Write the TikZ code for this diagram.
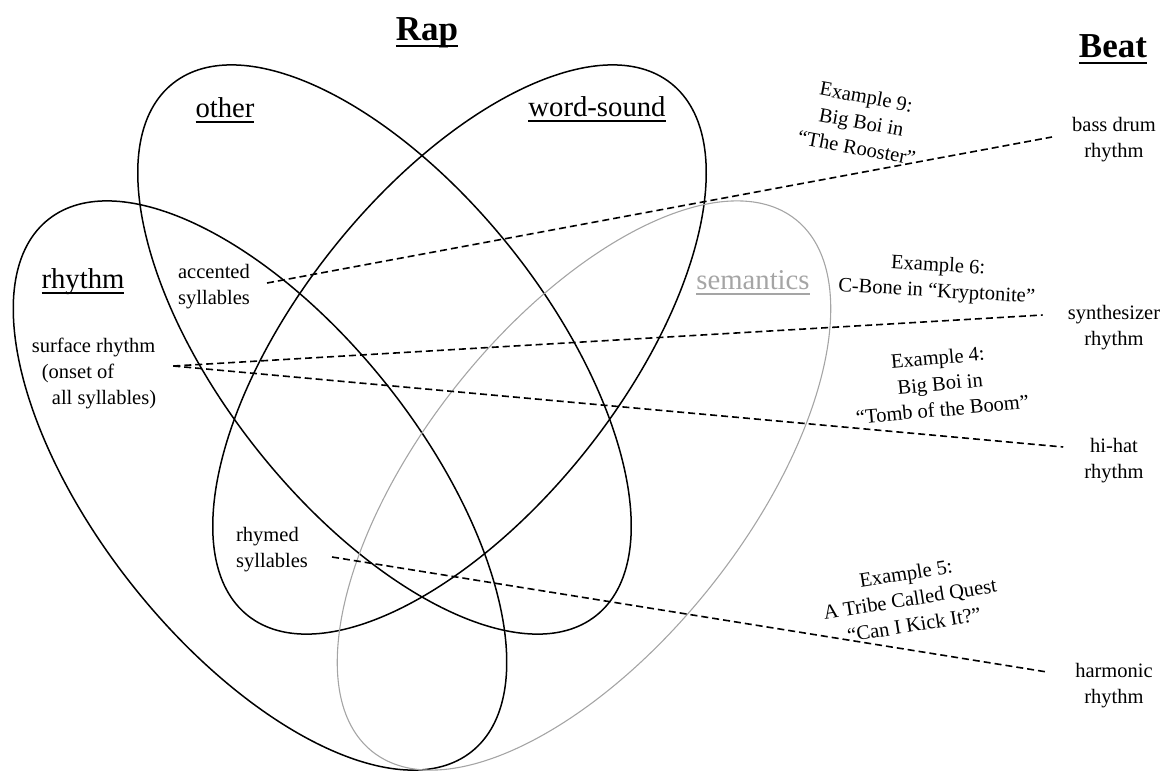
\documentclass[tikz,border=0pt]{standalone}
\usepackage{fontspec}
\setmainfont{Liberation Serif}
\usetikzlibrary{calc}
\definecolor{semgray}{RGB}{165,165,165}
\newcommand{\ulword}[1]{\setbox0=\hbox{#1}\rlap{\rule[-0.2em]{\wd0}{0.07em}}\box0}

\begin{document}
\begin{tikzpicture}[x=1pt,y=1pt,yscale=-1,
  venn/.style={line width=1.5pt},
  semvenn/.style={line width=1.1pt,draw=semgray},
  title/.style={font=\fontsize{35}{40}\selectfont\bfseries,inner sep=0pt,anchor=base},
  setname/.style={font=\fontsize{28.7}{34}\selectfont,inner sep=0pt,anchor=base},
  txt/.style={font=\fontsize{20.5}{26}\selectfont,inner sep=2pt},
  exlbl/.style={txt,align=center,sloped,above=17pt},
  exline/.style={line width=1.6pt,dash pattern=on 7pt off 4pt}]
\useasboundingbox (0,0) rectangle (1167,772);

%Shape: Ellipse [other]
\draw[venn, rotate around={51.5:(384.5,349.5)}] (384.5,349.5) ellipse [x radius=340, y radius=162];
%Shape: Ellipse [word-sound]
\draw[venn, rotate around={-51.5:(459.5,349.5)}] (459.5,349.5) ellipse [x radius=340, y radius=162];
%Shape: Ellipse [rhythm]
\draw[venn, rotate around={51.5:(260,485.5)}] (260,485.5) ellipse [x radius=340, y radius=162];
%Shape: Ellipse [semantics]
\draw[semvenn, rotate around={-51.5:(584,485.5)}] (584,485.5) ellipse [x radius=340, y radius=162];

% Text Node
\node[title] (rap) at (427,40) {\ulword{Rap}};
% Text Node
\node[title] (beat) at (1113,57) {\ulword{Beat}};
% Text Node
\node[setname] (other) at (225,117) {\ulword{other}};
% Text Node
\node[setname] (wordsound) at (597,116) {\ulword{word-sound}};
% Text Node
\node[setname] (rhythm) at (83,288) {\ulword{rhythm}};
% Text Node
\node[setname,text=semgray] (semantics) at (753,289) {\ulword{semantics}};

% Text Node
\node[txt,align=left] (acc) at (214,287) {accented\\syllables};
% Text Node
\node[txt,align=left] (srf) at (94,373) {surface rhythm\\\hspace*{10pt}(onset of\\\hspace*{20pt}all syllables)};
% Text Node
\node[txt,align=left] (rhy) at (272,550) {rhymed\\syllables};

% Text Node
\node[txt,align=center] (bass) at (1114,140) {bass drum\\rhythm};
% Text Node
\node[txt,align=center] (synth) at (1114,328) {synthesizer\\rhythm};
% Text Node
\node[txt,align=center] (hihat) at (1114,461) {hi-hat\\rhythm};
% Text Node
\node[txt,align=center] (harm) at (1114,686) {harmonic\\rhythm};

% line ends
\coordinate (s9) at ($(acc.east)+(15,-4)$);
\coordinate (s64) at ($(srf.east)+(15,-7)$);
\coordinate (s5) at ($(rhy.east)+(22,7)$);
\coordinate (e9) at ($(bass.west)+(-18,-3)$);
\coordinate (e6) at ($(synth.west)+(-23,-13)$);
\coordinate (e4) at ($(hihat.west)+(-19,-14)$);
\coordinate (e5) at ($(harm.west)+(-26,-14)$);

%Straight Lines
\draw[exline] (s9) -- (e9) node[exlbl,pos=0.745] (ex9) {Example 9:\\Big Boi in\\“The Rooster”};
%Straight Lines
\draw[exline] (s64) -- (e6) node[exlbl,pos=0.876] (ex6) {Example 6:\\C-Bone in “Kryptonite”};
%Straight Lines
\draw[exline] (s64) -- (e4) node[exlbl,pos=0.867] (ex4) {Example 4:\\Big Boi in\\“Tomb of the Boom”};
%Straight Lines
\draw[exline] (s5) -- (e5) node[exlbl,pos=0.82] (ex5) {Example 5:\\A Tribe Called Quest\\“Can I Kick It?”};

\end{tikzpicture}
\end{document}
